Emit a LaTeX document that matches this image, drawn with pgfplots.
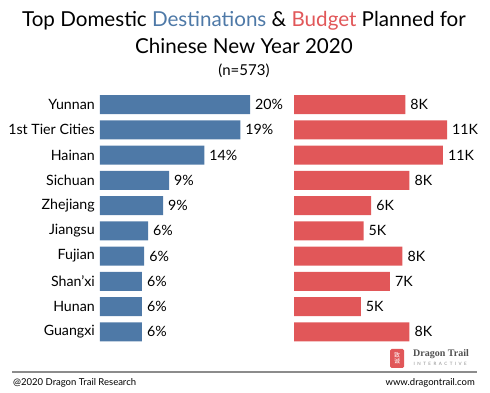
\documentclass[border=0pt]{standalone}
\usepackage{fontspec}
\setmainfont{Lato}
\newfontfamily\logofont{Liberation Serif}
\newfontfamily\spaced[LetterSpace=55]{Lato}
\newfontfamily\cjk{Noto Sans CJK SC}
\usepackage{pgfplots}
\pgfplotsset{compat=1.18}
\definecolor{tblue}{HTML}{4E79A7}
\definecolor{tred}{HTML}{E15759}
\definecolor{footgray}{RGB}{140,140,140}
\definecolor{logogray}{RGB}{80,80,80}
\begin{document}
\begin{tikzpicture}[x=1pt,y=1pt]
\path[use as bounding box] (0,0) rectangle (490,393);
% titles
\node[anchor=base, font=\fontsize{20.6}{24}\selectfont, inner sep=0pt] at (244,366)
  {Top Domestic \textcolor{tblue}{Destinations} \& \textcolor{tred}{Budget} Planned for};
\node[anchor=base, font=\fontsize{20.6}{24}\selectfont, inner sep=0pt] at (244,339)
  {Chinese New Year 2020};
\node[anchor=base, font=\fontsize{15}{17}\selectfont, inner sep=0pt] at (244,317) {(n=573)};

\pgfplotsset{
  mybars/.style={
    xbar, scale only axis, clip=false,
    height=252.6pt,
    ymin=-0.5, ymax=9.5, y dir=reverse,
    xmin=0,
    axis line style={draw=none},
    major tick length=0pt,
    xtick=\empty,
    bar width=19pt,
    point meta=explicit symbolic,
    nodes near coords style={anchor=west, inner sep=0pt, xshift=5pt,
      font=\fontsize{14.2}{16}\selectfont, text=black},
  }
}
\begin{axis}[mybars, at={(100pt,48.5pt)}, anchor=south west,
  width=150pt, xmax=20,
  ytick={0,...,9},
  yticklabels={Yunnan,1st Tier Cities,Hainan,Sichuan,Zhejiang,Jiangsu,Fujian,Shan'xi,Hunan,Guangxi},
  yticklabel style={font=\fontsize{14.2}{16}\selectfont, inner xsep=0pt, xshift=-5pt},
  nodes near coords={\pgfplotspointmeta\%},
]
\addplot[fill=tblue, draw=none] table[x=v, y=i, meta=l] {
i v l
0 20.0 20
1 18.7 19
2 13.9 14
3 9.2 9
4 8.4 9
5 6.4 6
6 5.9 6
7 5.6 6
8 5.6 6
9 5.6 6
};
\end{axis}
\begin{axis}[mybars, at={(294pt,48.5pt)}, anchor=south west,
  width=153pt, xmax=11,
  ytick=\empty,
  nodes near coords={\pgfplotspointmeta K},
]
\addplot[fill=tred, draw=none] table[x=v, y=i, meta=l] {
i v l
0 8.0 8
1 11.0 11
2 10.7 11
3 8.3 8
4 5.55 6
5 5.0 5
6 7.8 8
7 6.9 7
8 4.8 5
9 8.3 8
};
\end{axis}
% logo
\fill[tred, rounded corners=1.5pt] (390,25) rectangle (404,44);
\node[text=white, font=\cjk\fontsize{6}{6}\selectfont, inner sep=0pt, align=center] at (397,34.5) {致\\诚};
\node[anchor=base west, inner sep=0pt, text=logogray, font=\logofont\bfseries\fontsize{10}{12}\selectfont] at (413,36) {Dragon Trail};
\node[anchor=base west, inner sep=0pt, text=footgray, font=\spaced\fontsize{4.5}{5}\selectfont] at (413.5,27.5) {INTERACTIVE};
% footer
\draw[footgray, line width=1.6pt] (12,21) -- (477,21);
\node[anchor=base west, inner sep=0pt, font=\fontsize{9.5}{11}\selectfont] at (13,7.3) {@2020 Dragon Trail Research};
\node[anchor=base east, inner sep=0pt, font=\fontsize{9.5}{11}\selectfont] at (475,7.3) {www.dragontrail.com};
\end{tikzpicture}
\end{document}
